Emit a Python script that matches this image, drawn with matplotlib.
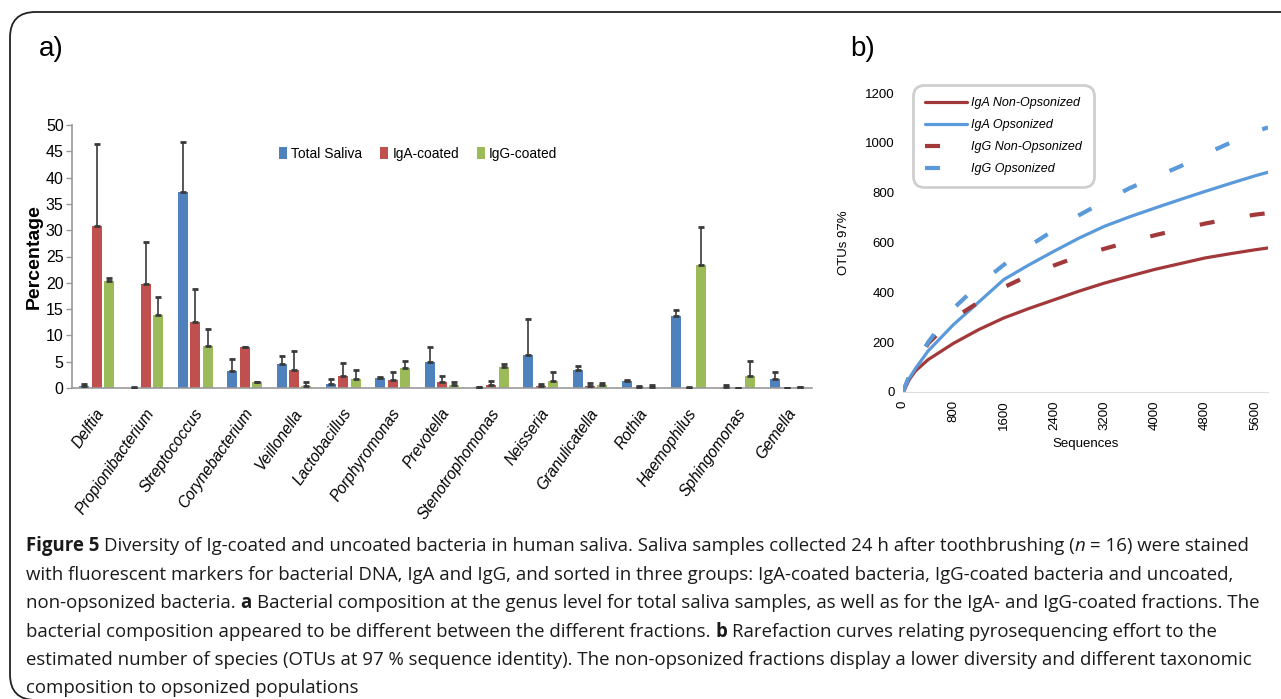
import matplotlib
matplotlib.use("Agg")
import matplotlib.pyplot as plt
import numpy as np
from matplotlib.patches import FancyBboxPatch, Patch
import matplotlib.transforms as mtransforms

# ---------------- data ----------------
categories = ['Delftia', 'Propionibacterium', 'Streptococcus', 'Corynebacterium',
              'Veillonella', 'Lactobacillus', 'Porphyromonas', 'Prevotella',
              'Stenotrophomonas', 'Neisseria', 'Granulicatella', 'Rothia',
              'Haemophilus', 'Sphingomonas', 'Gemella']
total_saliva = [0.4, 0.05, 37.2, 3.2, 4.5, 0.85, 1.85, 5.0, 0.1, 6.35, 3.5, 1.3, 13.6, 0.25, 1.8]
total_saliva_top = [0.8, 0.1, 46.8, 5.6, 6.0, 1.75, 2.0, 7.7, 0.15, 13.2, 4.1, 1.5, 14.9, 0.5, 3.0]
iga_coated = [30.8, 19.8, 12.6, 7.7, 3.4, 2.25, 1.5, 1.1, 0.65, 0.4, 0.4, 0.25, 0.05, 0.0, 0.0]
iga_coated_top = [46.4, 27.7, 18.8, 7.8, 7.05, 4.8, 3.1, 2.3, 1.4, 0.85, 0.9, 0.4, 0.1, 0.0, 0.0]
igg_coated = [20.3, 13.8, 7.9, 1.15, 0.45, 1.75, 3.85, 0.5, 3.9, 1.35, 0.5, 0.2, 23.4, 2.3, 0.1]
igg_coated_top = [20.9, 17.3, 11.3, 1.2, 1.15, 3.5, 5.05, 1.15, 4.55, 3.1, 0.9, 0.6, 30.6, 5.1, 0.2]
series_names = ['Total Saliva', 'IgA-coated', 'IgG-coated']
y_ticks_a = [0, 5, 10, 15, 20, 25, 30, 35, 40, 45, 50]

sequences = [0, 100, 200, 400, 800, 1200, 1600, 2000, 2400, 2800, 3200, 3600, 4000, 4400, 4800, 5200, 5600, 5800]
iga_non_opsonized = [0, 50, 85, 130, 195, 250, 297, 335, 370, 405, 437, 465, 492, 515, 538, 555, 571, 578]
iga_opsonized = [0, 55, 95, 165, 270, 360, 451, 510, 565, 618, 665, 703, 738, 772, 805, 837, 868, 882]
igg_non_opsonized = [0, 60, 110, 195, 295, 360, 420, 468, 508, 545, 575, 603, 629, 653, 676, 695, 712, 718]
igg_opsonized = [0, 65, 115, 200, 335, 430, 510, 585, 650, 710, 765, 818, 862, 905, 955, 1000, 1045, 1062]
curve_names = ['IgA Non-Opsonized', 'IgA Opsonized', 'IgG Non-Opsonized', 'IgG Opsonized']
x_ticks_b = [0, 800, 1600, 2400, 3200, 4000, 4800, 5600]
y_ticks_b = [0, 200, 400, 600, 800, 1000, 1200]

caption_lines = [
    [("Figure 5", "bold", False),
     ("Diversity of Ig-coated and uncoated bacteria in human saliva. Saliva samples collected 24 h after toothbrushing (", "normal", True),
     ("n", "italic", False), ("= 16) were stained", "normal", True)],
    [("with fluorescent markers for bacterial DNA, IgA and IgG, and sorted in three groups: IgA-coated bacteria, IgG-coated bacteria and uncoated,", "normal", False)],
    [("non-opsonized bacteria.", "normal", False), ("a", "bold", True),
     ("Bacterial composition at the genus level for total saliva samples, as well as for the IgA- and IgG-coated fractions. The", "normal", True)],
    [("bacterial composition appeared to be different between the different fractions.", "normal", False), ("b", "bold", True),
     ("Rarefaction curves relating pyrosequencing effort to the", "normal", True)],
    [("estimated number of species (OTUs at 97 % sequence identity). The non-opsonized fractions display a lower diversity and different taxonomic", "normal", False)],
    [("composition to opsonized populations", "normal", False)],
]

# ---------------- figure ----------------
W, H = 1281, 699
fig = plt.figure(figsize=(W / 100, H / 100), dpi=100)
fig.patch.set_facecolor('white')

narrow = ['Liberation Sans Narrow', 'Liberation Sans', 'DejaVu Sans']
arial = ['Liberation Sans', 'DejaVu Sans']

# outer rounded border
border = FancyBboxPatch((10 / W, 1 - 700 / H), 1400 / W, 688 / H,
                        boxstyle="round,pad=0,rounding_size=0.02",
                        transform=fig.transFigure, facecolor='none',
                        edgecolor='#222222', linewidth=1.3, mutation_aspect=W / H)
fig.patches.append(border)

fig.text(39 / W, 1 - 49 / H, "a)", fontsize=20, family=arial, va='center', ha='left')
fig.text(850 / W, 1 - 49 / H, "b)", fontsize=20, family=arial, va='center', ha='left')

# ---------------- panel a ----------------
axA = fig.add_axes([72 / W, 1 - 388 / H, 740 / W, 263 / H])
colors_a = ['#4F81BD', '#C0504D', '#9BBB59']
vals = [total_saliva, iga_coated, igg_coated]
tops = [total_saliva_top, iga_coated_top, igg_coated_top]
x = np.arange(len(categories))
step = 0.25
bw = 0.197
for k in range(3):
    xs = x + (k - 1) * step
    v = np.array(vals[k])
    t = np.array(tops[k])
    axA.bar(xs, v, width=bw, color=colors_a[k], label=series_names[k], zorder=2)
    yerr = np.vstack([np.zeros_like(v), np.maximum(t - v, 0)])
    axA.errorbar(xs, v, yerr=yerr, fmt='none', ecolor='#3a3a3a', elinewidth=1.2,
                 capsize=2.3, capthick=2, zorder=3)
axA.set_xlim(-0.5, len(categories) - 0.5)
axA.set_ylim(0, 50)
axA.set_yticks(y_ticks_a)
axA.set_yticklabels([str(v) for v in y_ticks_a], family=narrow, fontsize=11.5)
axA.set_xticks(x)
axA.set_xticklabels([])
label_tr = (mtransforms.blended_transform_factory(axA.transData, axA.transAxes)
            + mtransforms.ScaledTranslation(11 / 100, -18 / 100, fig.dpi_scale_trans))
for i, name in enumerate(categories):
    axA.text(i, 0, name, transform=label_tr, rotation=55, ha='right', va='top',
             family=narrow, style='italic', fontsize=11.2, clip_on=False)
axA.tick_params(axis='x', length=0)
axA.tick_params(axis='y', length=4, color='#999999', width=1, pad=2)
for s in ['top', 'right']:
    axA.spines[s].set_visible(False)
for s in ['left', 'bottom']:
    axA.spines[s].set_color('#999999')
    axA.spines[s].set_linewidth(1.2)
axA.set_ylabel("Percentage", family=arial, fontweight='bold', fontsize=14, labelpad=2)
handles = [Patch(facecolor=c, edgecolor='none') for c in colors_a]
legA = fig.legend(handles, series_names, loc='center', bbox_to_anchor=(418 / W, 1 - 154 / H),
                  ncol=3, frameon=False, prop={'family': narrow, 'size': 9.9},
                  handlelength=0.6, handleheight=1.0, handletextpad=0.3, columnspacing=1.3)

# ---------------- panel b ----------------
axB = fig.add_axes([903 / W, 1 - 392 / H, 365 / W, 299 / H])
red = '#A3383A'
blue = '#5A9ADB'
l1, = axB.plot(sequences, iga_non_opsonized, color=red, lw=2.3, solid_capstyle='round', label=curve_names[0])
l2, = axB.plot(sequences, iga_opsonized, color=blue, lw=2.3, solid_capstyle='round', label=curve_names[1])
l3, = axB.plot(sequences, igg_non_opsonized, color=red, lw=3, linestyle=(0, (3.6, 8.6)), label=curve_names[2])
l4, = axB.plot(sequences, igg_opsonized, color=blue, lw=3, linestyle=(0, (3.6, 8.6)), label=curve_names[3])
axB.set_xlim(0, 5800)
axB.set_ylim(0, 1200)
axB.set_xticks(x_ticks_b)
axB.set_xticklabels([str(v) for v in x_ticks_b], rotation=90, family=arial, fontsize=9.5)
axB.set_yticks(y_ticks_b)
axB.set_yticklabels([str(v) for v in y_ticks_b], family=arial, fontsize=9.5)
axB.tick_params(length=0, pad=6)
for s in ['top', 'right', 'left']:
    axB.spines[s].set_visible(False)
axB.spines['bottom'].set_color('#dddddd')
axB.set_xlabel("Sequences", family=arial, fontsize=9.5, labelpad=6)
axB.set_ylabel("OTUs 97%", family=arial, fontsize=9.5, labelpad=11)
legB = axB.legend(handles=[l1, l2, l3, l4], loc='upper left',
                  bbox_to_anchor=(913 / W, 1 - 85 / H), bbox_transform=fig.transFigure,
                  borderaxespad=0,
                  prop={'family': arial, 'size': 9, 'style': 'italic'},
                  handlelength=3.4, handletextpad=0.3, labelspacing=0.8,
                  borderpad=0.95, fancybox=True, framealpha=1)
legB.get_frame().set_edgecolor('#cfcfcf')
legB.get_frame().set_linewidth(2)
legB.get_frame().set_boxstyle('round,pad=0,rounding_size=0.9')

# ---------------- caption ----------------
cap_font = 'Open Sans'
cap_size = 13.4
renderer = fig.canvas.get_renderer()


def text_width(s, weight='normal', style='normal'):
    t = fig.text(0, 0, s, family=cap_font, fontsize=cap_size, fontweight=weight, fontstyle=style)
    w = t.get_window_extent(renderer).width
    t.remove()
    return w


space_w = text_width("x x") - text_width("xx")
line_y = [546, 575, 603, 632, 660, 688]
for yy, pieces in zip(line_y, caption_lines):
    xp = 26.0
    for txt, st, sp in pieces:
        if sp:
            xp += space_w
        weight = 'bold' if st == 'bold' else 'normal'
        fstyle = 'italic' if st == 'italic' else 'normal'
        t = fig.text(xp / W, 1 - yy / H, txt, family=cap_font, fontsize=cap_size,
                     fontweight=weight, fontstyle=fstyle, va='center', ha='left', color='#1a1a1a')
        xp += t.get_window_extent(renderer).width

fig.savefig("out.png", dpi=100)
